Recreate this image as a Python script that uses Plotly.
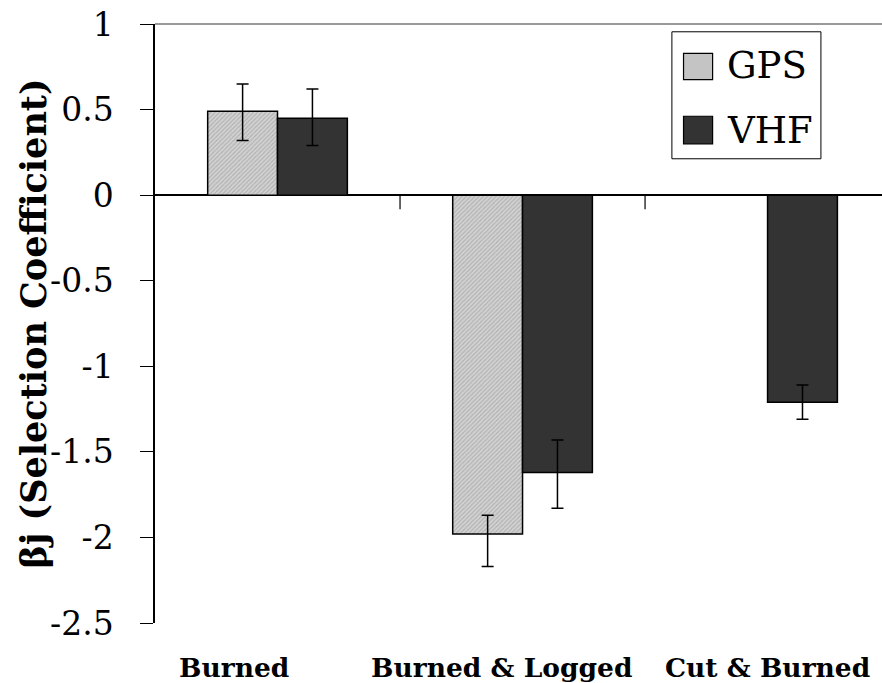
import plotly.graph_objects as go

# Habitat categories and selection coefficients by telemetry method
categories = ["Burned", "Burned & Logged", "Cut & Burned"]
gps_values = [0.49, -1.98, None]
gps_err_plus = [0.16, 0.11, 0]
gps_err_minus = [0.17, 0.19, 0]
vhf_values = [0.45, -1.62, -1.21]
vhf_err_plus = [0.17, 0.19, 0.10]
vhf_err_minus = [0.16, 0.21, 0.10]

y_ticks = [1, 0.5, 0, -0.5, -1, -1.5, -2, -2.5]
y_tick_labels = ["1", "0.5", "0", "-0.5", "-1", "-1.5", "-2", "-2.5"]

SERIF = "DejaVu Serif"
# horizontal nudges for the category captions (pixels)
label_shift = [-44, -21, 0]

fig = go.Figure()
fig.add_trace(go.Bar(
    name="GPS", x=categories, y=gps_values,
    marker=dict(color="#c4c4c4", line=dict(color="black", width=1.5),
                pattern=dict(shape="/", size=3, solidity=0.35,
                             fgcolor="#8c8c8c", bgcolor="#d2d2d2")),
    error_y=dict(type="data", symmetric=False, array=gps_err_plus,
                 arrayminus=gps_err_minus, color="black", thickness=1.5, width=6),
))
fig.add_trace(go.Bar(
    name="VHF", x=categories, y=vhf_values,
    marker=dict(color="#333333", line=dict(color="black", width=1.5)),
    error_y=dict(type="data", symmetric=False, array=vhf_err_plus,
                 arrayminus=vhf_err_minus, color="black", thickness=1.5, width=6),
))

shapes = []
# category separators hanging below the zero line
for xb in (0.5, 1.5):
    shapes.append(dict(type="line", xref="x", yref="y", x0=xb, x1=xb,
                       ysizemode="pixel", yanchor=0, y0=0, y1=-14,
                       line=dict(color="black", width=1.2)))
# top frame line
shapes.append(dict(type="line", xref="paper", yref="paper", x0=0, x1=1,
                   y0=1, y1=1, line=dict(color="#999999", width=2)))
# legend box and swatches
shapes.append(dict(type="rect", xref="paper", yref="paper",
                   x0=0.711, x1=0.916, y0=0.775, y1=0.987,
                   line=dict(color="black", width=1), fillcolor="white"))
shapes.append(dict(type="rect", xref="paper", yref="paper",
                   x0=0.727, x1=0.767, y0=0.907, y1=0.951,
                   line=dict(color="black", width=1.2), fillcolor="#c4c4c4"))
shapes.append(dict(type="rect", xref="paper", yref="paper",
                   x0=0.727, x1=0.767, y0=0.800, y1=0.846,
                   line=dict(color="black", width=1.2), fillcolor="#333333"))

annotations = [
    dict(text="GPS", xref="paper", yref="paper", x=0.784, y=0.930,
         xanchor="left", yanchor="middle", showarrow=False,
         font=dict(family=SERIF, size=37, color="black")),
    dict(text="VHF", xref="paper", yref="paper", x=0.784, y=0.823,
         xanchor="left", yanchor="middle", showarrow=False,
         font=dict(family=SERIF, size=37, color="black")),
    dict(text="<b>βj (Selection Coefficient)</b>", xref="paper", yref="paper",
         x=0, y=0.5, xshift=-122, xanchor="center", yanchor="middle",
         textangle=-90, showarrow=False,
         font=dict(family=SERIF, size=35, color="black")),
]
# category captions under the plot
for cat, dx in zip(categories, label_shift):
    annotations.append(dict(
        text="<b>%s</b>" % cat, xref="x", yref="paper", x=cat, y=0,
        xshift=dx, yshift=-44, xanchor="center", yanchor="middle",
        showarrow=False, font=dict(family=SERIF, size=26.5, color="black")))

fig.update_layout(
    width=882, height=683,
    margin=dict(l=155, r=0, t=24, b=60),
    paper_bgcolor="white", plot_bgcolor="white",
    font=dict(family=SERIF, color="black"),
    barmode="group", bargap=0.43, bargroupgap=0,
    showlegend=False,
    shapes=shapes, annotations=annotations,
    xaxis=dict(range=[-0.5, 2.467], showline=False, showgrid=False,
               zeroline=False, ticks="", showticklabels=False),
    yaxis=dict(range=[-2.5, 1], tickvals=y_ticks, ticktext=y_tick_labels,
               showline=True, linecolor="black", linewidth=1.5,
               ticks="outside", ticklen=13, tickwidth=1, tickcolor="black",
               showgrid=False, zeroline=True, zerolinecolor="black",
               zerolinewidth=1.5, ticklabelstandoff=20,
               tickfont=dict(family=SERIF, size=33, color="black")),
)

fig.write_html("out.html")
